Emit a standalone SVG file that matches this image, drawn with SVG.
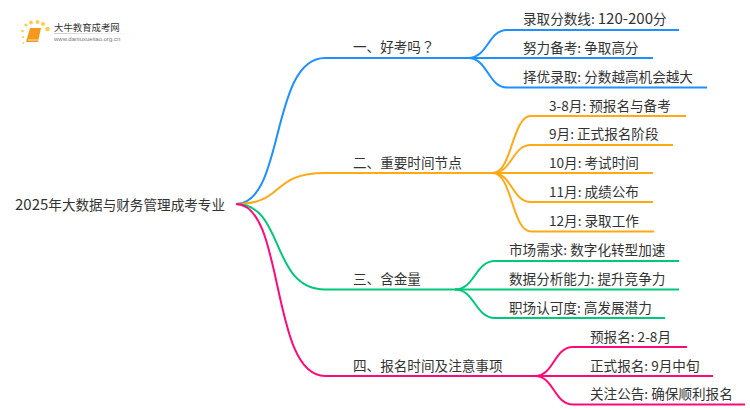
<svg xmlns="http://www.w3.org/2000/svg" width="750" height="410" viewBox="0 0 750 410">
<style>
text{font-family:"Noto Sans CJK SC","Liberation Sans",sans-serif;fill:#333;font-size:13.6px}
.c{fill:none;stroke-width:2}
.b{stroke:#1e90ff}.o{stroke:#ffa914}.g{stroke:#00c878}.p{stroke:#ff0a78}
.d{fill:#fbcf4a}
.n{font-size:15px}
.q{font-family:"Noto Sans CJK TC",sans-serif}
</style>
<defs><linearGradient id="fade"><stop offset="0" stop-color="#ccc"/><stop offset="1" stop-color="#fff"/></linearGradient></defs>
<rect width="750" height="410" fill="#fff"/>
<g id="logo">
<path d="M30 28h11l-3 14h-12z" fill="#f39a1e"/>
<path d="M28 40h10" stroke="#fde0a0" fill="none"/>
<circle class="d" cx="26" cy="25" r="1.6"/><circle class="d" cx="31" cy="22.500" r="1.9"/><circle class="d" cx="37.500" cy="22" r="2"/><circle class="d" cx="43" cy="24" r="2"/><circle class="d" cx="47.500" cy="29" r="2.300"/><circle class="d" cx="22.500" cy="31" r="1.300"/><circle class="d" cx="23" cy="37" r="1.100"/><circle class="d" cx="23.500" cy="43" r="0.900"/>
<rect x="54" y="33" width="80" height="1" fill="url(#fade)"/>
<text x="54" y="30.500" style="font-size:9.400px">大牛教育成考网</text>
<text x="54" y="41" style="font-size:6px;fill:#777;font-family:'Liberation Sans',sans-serif">www.daniuxueiiao.org.cn</text>
</g>
<g id="connectors">
<path class="c b" d="M236 204C285 204 270 58 325 58H468"/>
<path class="c o" d="M236 204C285 204 270 173 325 173H493"/>
<path class="c g" d="M236 204C285 204 270 289.500 325 289.500H455"/>
<path class="c p" d="M236 204C285 204 270 376 325 376H535"/>
<path class="c b" d="M468 58C488 58 488 30 507 30H679"/>
<path class="c b" d="M468 58H653"/>
<path class="c b" d="M468 58C488 58 488 87.500 507 87.500H707"/>
<path class="c o" d="M493 173C512 173 512 116 531 116H686"/>
<path class="c o" d="M493 173C512 173 512 145 531 145H673"/>
<path class="c o" d="M493 173H653"/>
<path class="c o" d="M493 173C512 173 512 202 531 202H653"/>
<path class="c o" d="M493 173C512 173 512 231.500 531 231.500H654"/>
<path class="c g" d="M455 289.500C475 289.500 475 261 495 261H679"/>
<path class="c g" d="M455 289.500H679"/>
<path class="c g" d="M455 289.500C475 289.500 475 318 495 318H665"/>
<path class="c p" d="M535 376C554 376 554 347 573 347H687"/>
<path class="c p" d="M535 376H713"/>
<path class="c p" d="M535 376C554 376 554 404.500 573 404.500H745"/>
</g>
<g id="root"><text x="15" y="210"><tspan class="n">2025</tspan>年大数据与财务管理成考专业</text></g>
<g id="n1"><text x="353" y="52">一、好考吗<tspan class="q">？</tspan></text></g>
<g id="n2"><text x="353" y="167.500">二、重要时间节点</text></g>
<g id="n3"><text x="353" y="283.500">三、含金量</text></g>
<g id="n4"><text x="353" y="370.500">四、报名时间及注意事项</text></g>
<g id="n11"><text x="523" y="23.500">录取分数线: <tspan class="n">120-200</tspan>分</text></g>
<g id="n12"><text x="523" y="52.500">努力备考: 争取高分</text></g>
<g id="n13"><text x="523" y="81.500">择优录取: 分数越高机会越大</text></g>
<g id="n21"><text x="549" y="110.500">3-8月: 预报名与备考</text></g>
<g id="n22"><text x="549" y="138.500">9月: 正式报名阶段</text></g>
<g id="n23"><text x="549" y="167.500">10月: 考试时间</text></g>
<g id="n24"><text x="549" y="196.500">11月: 成绩公布</text></g>
<g id="n25"><text x="549" y="225.500">12月: 录取工作</text></g>
<g id="n31"><text x="509" y="254.500">市场需求: 数字化转型加速</text></g>
<g id="n32"><text x="509" y="283.500">数据分析能力: 提升竞争力</text></g>
<g id="n33"><text x="509" y="312.500">职场认可度: 高发展潜力</text></g>
<g id="n41"><text x="590" y="341.500">预报名: 2-8月</text></g>
<g id="n42"><text x="590" y="370.500">正式报名: 9月中旬</text></g>
<g id="n43"><text x="590" y="398.500">关注公告: 确保顺利报名</text></g>
</svg>
